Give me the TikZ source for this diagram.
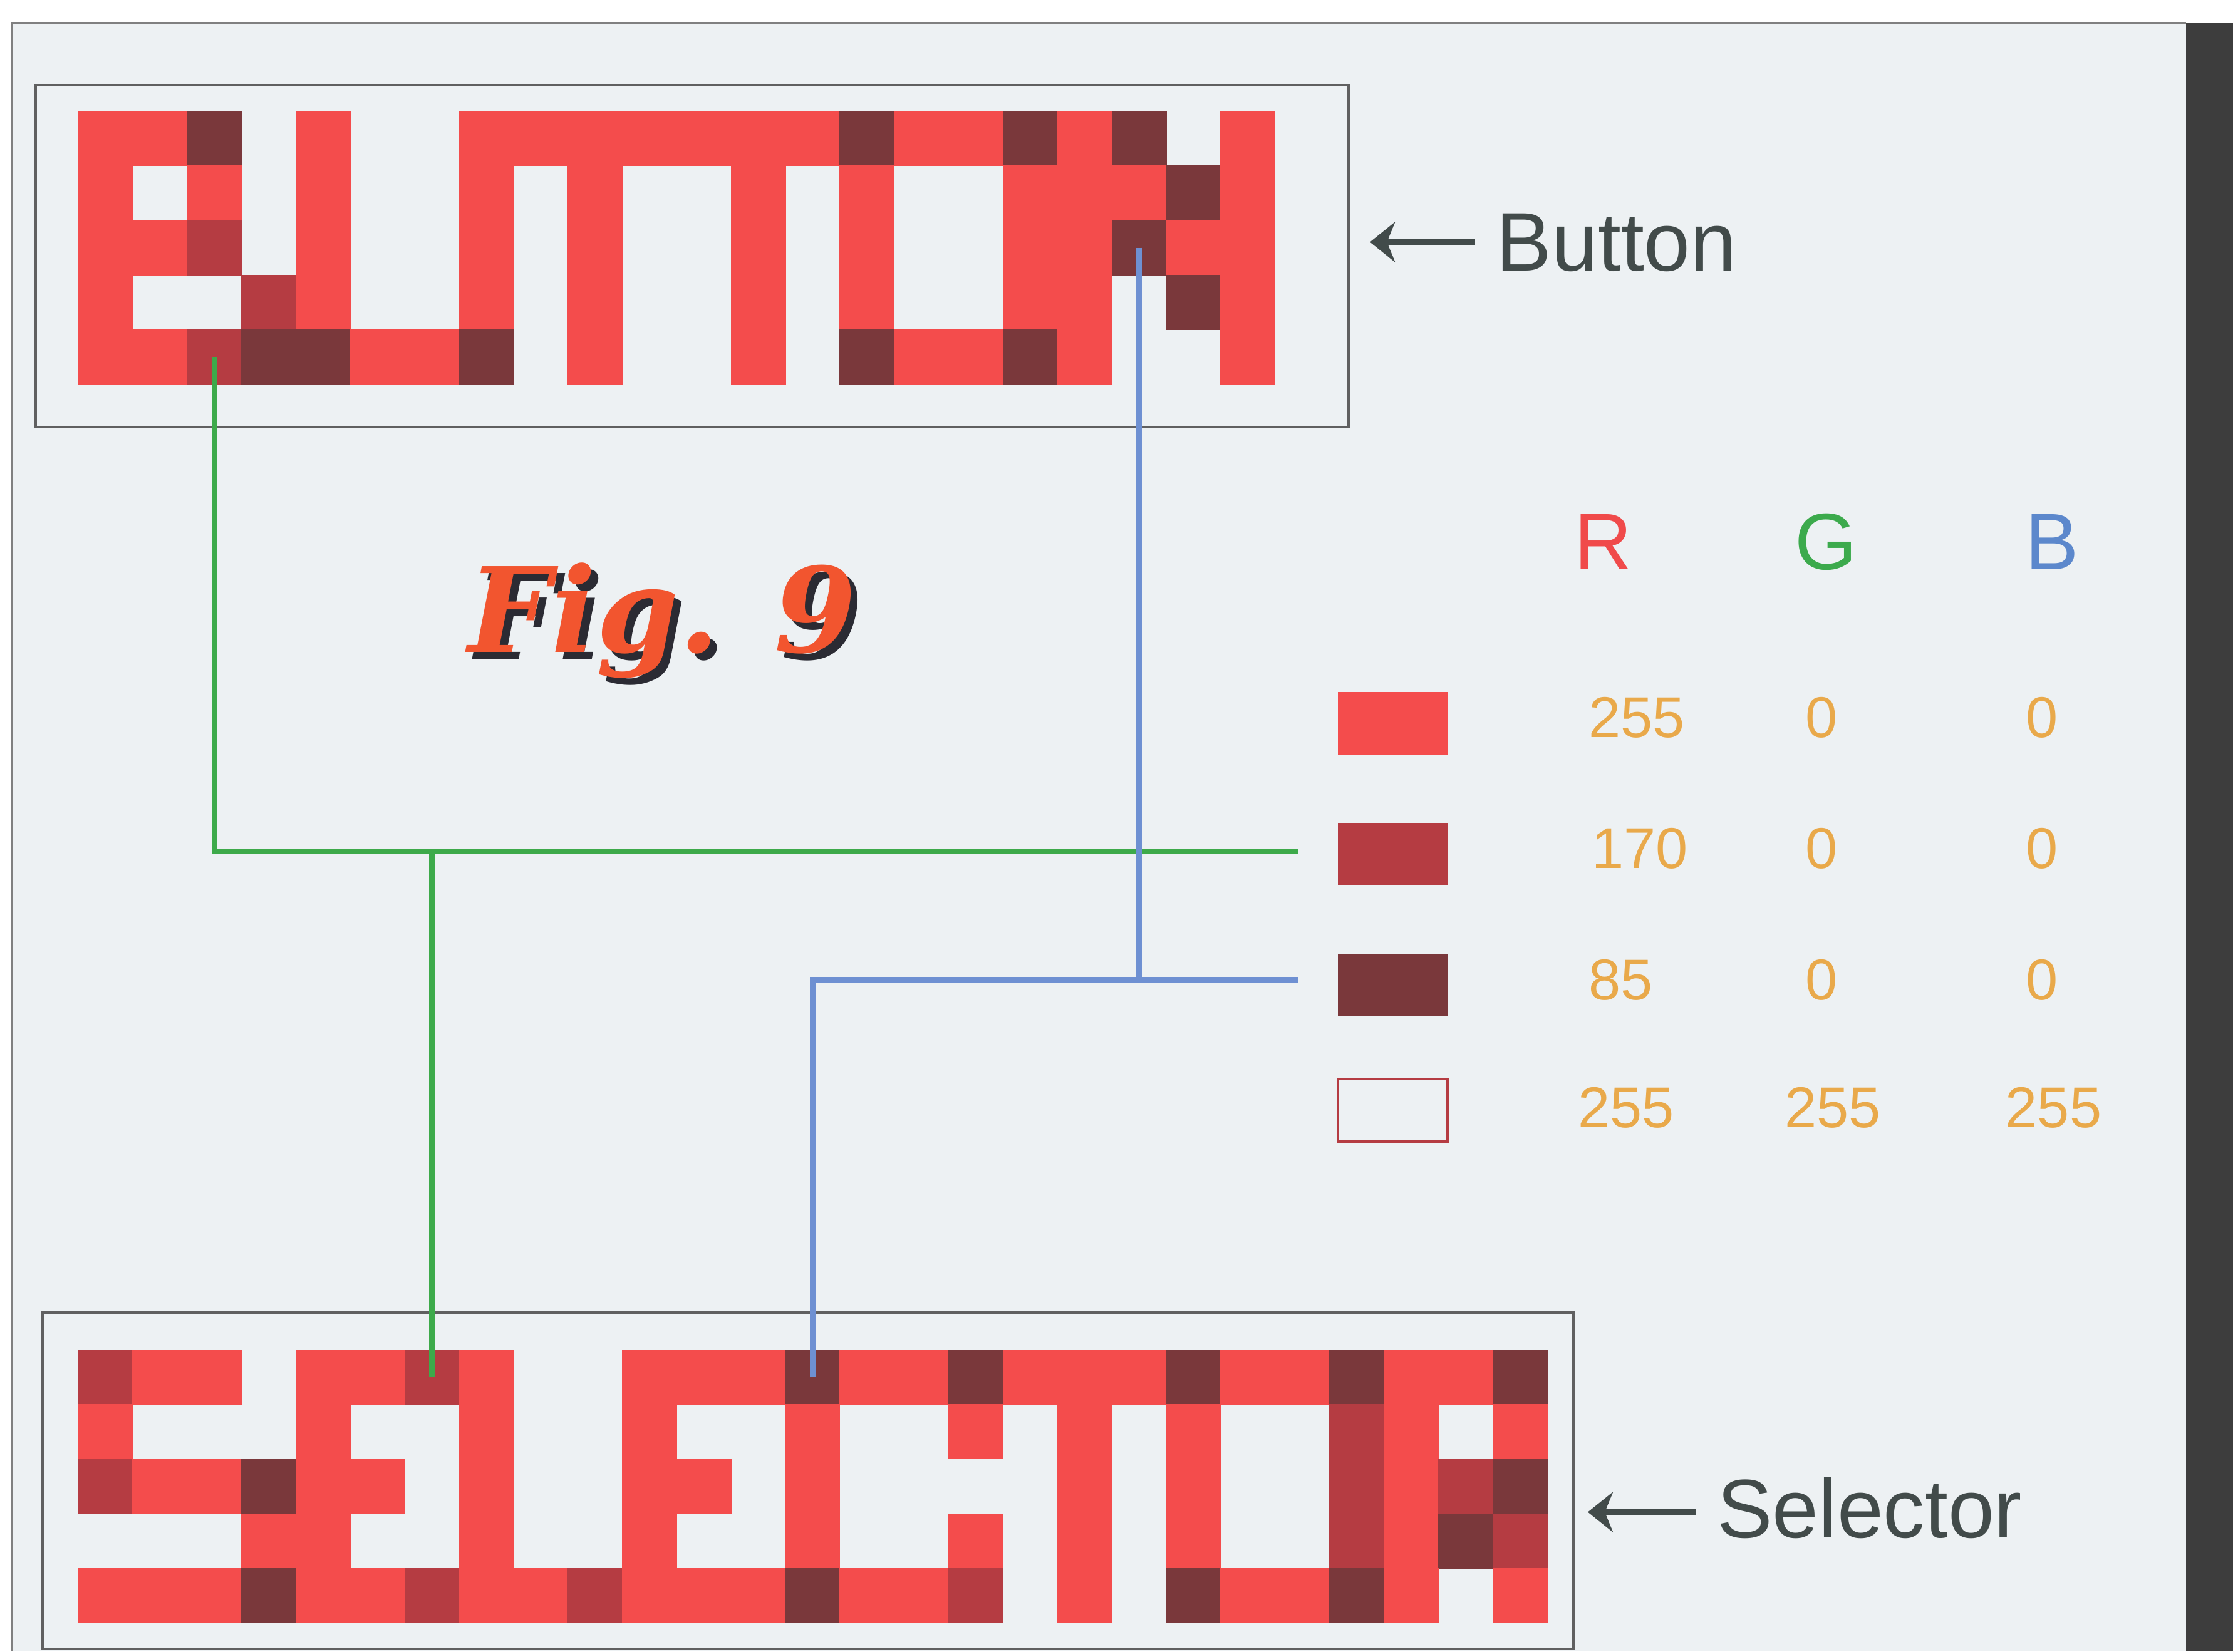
\documentclass[tikz,border=0pt]{standalone}
\usepackage{fontspec}
\setmainfont{Liberation Sans}
\newfontfamily\figfont{DejaVu Serif}
\usetikzlibrary{positioning}
\usetikzlibrary{calc}
\usetikzlibrary{arrows.meta}
\definecolor{paper}{HTML}{EDF1F3}
\definecolor{px1}{HTML}{F44C4C}
\definecolor{px2}{HTML}{B53C42}
\definecolor{px3}{HTML}{7A383B}
\definecolor{wireG}{HTML}{3DAA4A}
\definecolor{wireB}{HTML}{6E90D2}
\definecolor{numcol}{HTML}{E9A94A}
\definecolor{labcol}{HTML}{424B4A}
\definecolor{figred}{HTML}{F2552F}
\definecolor{figshadow}{HTML}{2B2B33}
\definecolor{chanR}{HTML}{F04A4A}
\definecolor{chanG}{HTML}{3CAA4C}
\definecolor{chanB}{HTML}{5C88CC}
\tikzset{cell/.style = {rectangle, inner sep = 0, outer sep = 0, minimum width = 0.386cm, minimum height = 0.388cm}}
\tikzset{frame/.style = {draw = gray!75!black, line width = 0.5pt}}
\tikzset{swatch/.style = {rectangle, inner sep = 0, outer sep = 0, minimum width = 0.77cm, minimum height = 0.44cm}}
\tikzset{wire/.style = {line width = 1.1pt}}
\tikzset{num/.style = {text = numcol, inner sep = 0, font = \fontsize{11.5}{12}\selectfont}}
\tikzset{chan/.style = {inner sep = 0, font = \fontsize{16}{18}\selectfont}}
\tikzset{lbl/.style = {text = labcol, inner sep = 0, anchor = base west, font = \fontsize{16.6}{18}\selectfont}}
\tikzset{pointer/.style = {draw = labcol, line width = 1.4pt, -{Stealth[length = 5pt, width = 8pt]}}}
\tikzset{figtext/.style = {anchor = base west, inner sep = 0, font = \figfont\bfseries\itshape\fontsize{23.5}{25}\selectfont}}

\begin{document}
\begin{tikzpicture}[x = 0.01cm, y = -0.01cm]
    \useasboundingbox (0,0) rectangle (1568,1160);
    % page
    \fill[white] (0,0) rectangle (1568,1160);
    \fill[paper] (8,16) rectangle (1535,1160);
    \draw[gray, line width = 0.4pt] (8,1160) -- (8,16) -- (1535,16);
    \fill[black!76] (1535,16) rectangle (1568,1160);

    % boxes round the two words
    \draw[frame] (25,60) rectangle (947,300);
    \draw[frame] (30,922) rectangle (1105,1158);

    % BUTTON, 22 x 5 pixels (1 = 255, 2 = 170, 3 = 85)
    \foreach \row [count = \r from 0] in {
        {1,1,3,0,1,0,0,1,1,1,1,1,1,1,3,1,1,3,1,3,0,1},
        {1,0,1,0,1,0,0,1,0,1,0,0,1,0,1,0,0,1,1,1,3,1},
        {1,1,2,0,1,0,0,1,0,1,0,0,1,0,1,0,0,1,1,3,1,1},
        {1,0,0,2,1,0,0,1,0,1,0,0,1,0,1,0,0,1,1,0,3,1},
        {1,1,2,3,3,1,1,3,0,1,0,0,1,0,3,1,1,3,1,0,0,1}} {
        \foreach \v [count = \c from 0] in \row {
            \ifnum\v>0
                \node[cell, fill = px\v] (btn-\c-\r) at ({55 + 38.2*(\c + 0.5)}, {78 + 38.4*(\r + 0.5)}) {};
            \fi
        }
    }

    % SELECTOR, 27 x 5 pixels
    \foreach \row [count = \r from 0] in {
        {2,1,1,0,1,1,2,1,0,0,1,1,1,3,1,1,3,1,1,1,3,1,1,3,1,1,3},
        {1,0,0,0,1,0,0,1,0,0,1,0,0,1,0,0,1,0,1,0,1,0,0,2,1,0,1},
        {2,1,1,3,1,1,0,1,0,0,1,1,0,1,0,0,0,0,1,0,1,0,0,2,1,2,3},
        {0,0,0,1,1,0,0,1,0,0,1,0,0,1,0,0,1,0,1,0,1,0,0,2,1,3,2},
        {1,1,1,3,1,1,2,1,1,2,1,1,1,3,1,1,2,0,1,0,3,1,1,3,1,0,1}} {
        \foreach \v [count = \c from 0] in \row {
            \ifnum\v>0
                \node[cell, fill = px\v] (sel-\c-\r) at ({55 + 38.2*(\c + 0.5)}, {948 + 38.4*(\r + 0.5)}) {};
            \fi
        }
    }

    % legend
    \node[swatch, fill = px1] (sw255) at (978,508) {};
    \node[swatch, fill = px2] (sw170) at (978,600) {};
    \node[swatch, fill = px3] (sw85) at (978,692) {};
    \node[swatch, draw = px2, line width = 0.5pt] (swW) at (978,780) {};

    \node[chan, text = chanR, anchor = base] (chR) at (1126,400) {R};
    \node[chan, text = chanG, anchor = base] (chG) at (1282,400) {G};
    \node[chan, text = chanB, anchor = base] (chB) at (1441,400) {B};

    \node[num, anchor = base west] (r255) at (1115,518) {255};
    \node[num, anchor = base] (g255) at (1279,518) {0};
    \node[num, anchor = base] (b255) at (1434,518) {0};
    \node[num, anchor = base west] (r170) at (1117,610) {170};
    \node[num, anchor = base] (g170) at (1279,610) {0};
    \node[num, anchor = base] (b170) at (1434,610) {0};
    \node[num, anchor = base west] (r85) at (1115,702) {85};
    \node[num, anchor = base] (g85) at (1279,702) {0};
    \node[num, anchor = base] (b85) at (1434,702) {0};
    \node[num, anchor = base] (rW) at (1142,792) {255};
    \node[num, anchor = base] (gW) at (1287,792) {255};
    \node[num, anchor = base] (bW) at (1442,792) {255};

    % wires from the pixels to their colour
    \coordinate (endG) at ($(sw170.west) + (-28,-2)$);
    \coordinate (endB) at ($(sw85.west) + (-28,-4)$);
    \draw[wire, wireG] (btn-2-4.center) |- (endG);
    \draw[wire, wireG] (sel-6-0.center) -- (sel-6-0.center |- endG);
    \draw[wire, wireB] (btn-19-2.center) -- (btn-19-2.center |- endB);
    \draw[wire, wireB] (sel-13-0.center) |- (endB);

    % labels
    \node[lbl] (lblBtn) at (1050,190) {Button};
    \coordinate (tipBtn) at (962,170);
    \draw[pointer] ($(lblBtn.base west) + (-14,-20)$) -- (tipBtn);
    \node[lbl] (lblSel) at (1205,1080) {Selector};
    \coordinate (tipSel) at (1115,1062);
    \draw[pointer] ($(lblSel.base west) + (-14,-18)$) -- (tipSel);

    % title
    \node[figtext, text = figshadow] (figS) at (333,463) {Fig. 9};
    \node[figtext, text = figred] (fig) at (328,458) {Fig. 9};
\end{tikzpicture}
\end{document}
